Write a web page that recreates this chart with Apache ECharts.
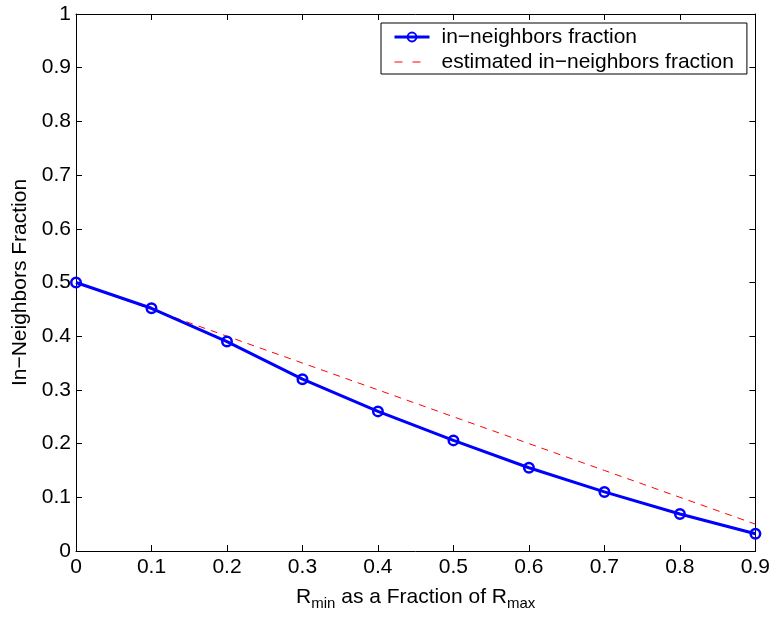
<!DOCTYPE html>
<html>
<head>
<meta charset="utf-8">
<script src="https://cdn.jsdelivr.net/npm/echarts@6/dist/echarts.min.js"></script>
<style>
  html, body { margin: 0; padding: 0; background: #fff; }
  #chart { width: 773px; height: 619px; }
</style>
</head>
<body>
<div id="chart"></div>
<script>
// R_min / R_max ratios on the horizontal axis
const rminFractions = [0, 0.1, 0.2, 0.3, 0.4, 0.5, 0.6, 0.7, 0.8, 0.9];
// measured in-neighbors fraction
const inNeighborsFraction = [0.5, 0.452, 0.39, 0.32, 0.26, 0.206, 0.155, 0.11, 0.069, 0.032];
// estimated in-neighbors fraction
const estimatedFraction = [0.5, 0.45, 0.4, 0.35, 0.3, 0.25, 0.2, 0.15, 0.1, 0.05];

const seriesNames = ['in\u2212neighbors fraction', 'estimated in\u2212neighbors fraction'];

const FONT = '"Liberation Sans", Arial, Helvetica, sans-serif';
const FS = 21;
const pairs = (xs, ys) => xs.map((x, i) => [x, ys[i]]);

const chart = echarts.init(document.getElementById('chart'), null, { renderer: 'canvas' });

const tickInside = { show: true, inside: true, length: 6, lineStyle: { color: '#000', width: 1 } };
const axisLineBlack = { show: true, onZero: false, lineStyle: { color: '#000', width: 1 } };

chart.setOption({
  animation: false,
  backgroundColor: '#fff',
  grid: { left: 76, top: 14, right: 17, bottom: 68, containLabel: false },
  legend: {
    orient: 'vertical',
    left: 381,
    top: 23,
    padding: [3, 13, 1, 12],
    itemGap: 3,
    itemWidth: 35,
    itemHeight: 11,
    borderColor: '#000',
    borderWidth: 1,
    backgroundColor: '#fff',
    borderRadius: 0,
    textStyle: { fontFamily: FONT, fontSize: FS, lineHeight: 22, color: '#000', padding: [0, 0, 0, 7] },
    data: [
      { name: seriesNames[0], lineStyle: { width: 3 } },
      // dashed reference line only, without a marker
      { name: seriesNames[1], itemStyle: { opacity: 0 }, lineStyle: { type: [8, 10], width: 1 } }
    ]
  },
  xAxis: [
    {
      type: 'value', min: 0, max: 0.9, interval: 0.1,
      position: 'bottom',
      axisLine: axisLineBlack,
      axisTick: tickInside,
      splitLine: { show: false },
      axisLabel: { color: '#000', fontFamily: FONT, fontSize: FS, margin: 6 },
      name: 'R{sub|min} as a Fraction of R{sub|max}',
      nameLocation: 'middle',
      nameGap: 33,
      nameTextStyle: {
        color: '#000', fontFamily: FONT, fontSize: FS,
        rich: { sub: { fontFamily: FONT, fontSize: 15, color: '#000', padding: [12, 0, 0, 0] } }
      }
    },
    {
      type: 'value', min: 0, max: 0.9, interval: 0.1,
      position: 'top',
      axisLine: axisLineBlack,
      axisTick: tickInside,
      splitLine: { show: false },
      axisLabel: { show: false }
    }
  ],
  yAxis: [
    {
      type: 'value', min: 0, max: 1, interval: 0.1,
      position: 'left',
      axisLine: axisLineBlack,
      axisTick: tickInside,
      splitLine: { show: false },
      axisLabel: { color: '#000', fontFamily: FONT, fontSize: FS, margin: 5 },
      name: 'In\u2212Neighbors Fraction',
      nameLocation: 'middle',
      nameGap: 42,
      nameRotate: 90,
      nameTextStyle: { color: '#000', fontFamily: FONT, fontSize: FS }
    },
    {
      type: 'value', min: 0, max: 1, interval: 0.1,
      position: 'right',
      axisLine: axisLineBlack,
      axisTick: tickInside,
      splitLine: { show: false },
      axisLabel: { show: false }
    }
  ],
  series: [
    {
      name: seriesNames[0],
      type: 'line',
      data: pairs(rminFractions, inNeighborsFraction),
      symbol: 'circle',
      symbolSize: 9.5,
      showAllSymbol: true,
      z: 3,
      lineStyle: { color: '#0000ff', width: 3 },
      itemStyle: { color: 'rgba(0,0,0,0)', borderColor: '#0000ff', borderWidth: 2.5 }
    },
    {
      name: seriesNames[1],
      type: 'line',
      data: pairs(rminFractions, estimatedFraction),
      symbol: 'none',
      z: 2,
      lineStyle: { color: '#ff0000', width: 1, type: [7, 6] },
      itemStyle: { color: '#ff0000' }
    }
  ]
});
</script>
</body>
</html>
